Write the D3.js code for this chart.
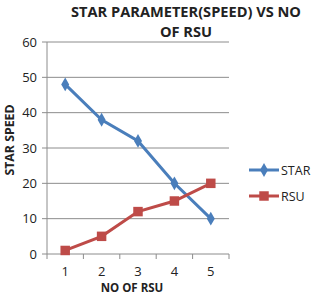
<!DOCTYPE html>
<html>
<head>
<meta charset="utf-8">
<script src="https://cdn.jsdelivr.net/npm/d3@7"></script>
<style>
body { margin: 0; background: #fff; }
text { font-family: "Open Sans", "DejaVu Sans", sans-serif; }
</style>
</head>
<body>
<div id="viz"></div>
<script>
const categories = [1, 2, 3, 4, 5];
const star = [48, 38, 32, 20, 10];
const rsu = [1, 5, 12, 15, 20];
const yTicks = [0, 10, 20, 30, 40, 50, 60];

const W = 312, H = 297;
const svg = d3.select('#viz').append('svg')
    .attr('width', W)
    .attr('height', H);

const x = d3.scaleBand()
    .domain(categories)
    .range([47, 229]);

const y = d3.scaleLinear()
    .domain([0, 60])
    .range([254, 42]);

const cx = d => x(d) + x.bandwidth() / 2;

// gridlines
svg.selectAll('line.grid')
    .data(yTicks)
    .enter()
    .append('line')
    .attr('class', 'grid')
    .attr('x1', 42).attr('x2', 229)
    .attr('y1', d => y(d)).attr('y2', d => y(d))
    .attr('stroke', '#8c8c8c')
    .attr('stroke-width', 1);

// y axis line
svg.append('line')
    .attr('x1', 47).attr('x2', 47)
    .attr('y1', y(60)).attr('y2', y(0))
    .attr('stroke', '#8c8c8c');

// x ticks
svg.selectAll('line.xt')
    .data(categories.concat([6]))
    .enter()
    .append('line')
    .attr('x1', (d, i) => 47 + i * x.step())
    .attr('x2', (d, i) => 47 + i * x.step())
    .attr('y1', y(0)).attr('y2', y(0) + 5)
    .attr('stroke', '#8c8c8c');

svg.selectAll('text.yl')
    .data(yTicks)
    .enter()
    .append('text')
    .attr('x', 37)
    .attr('y', d => y(d) + 4.5)
    .attr('text-anchor', 'end')
    .attr('font-size', 13)
    .attr('fill', '#222')
    .text(d => d);

svg.selectAll('text.xl')
    .data(categories)
    .enter()
    .append('text')
    .attr('x', d => cx(d))
    .attr('y', 276)
    .attr('text-anchor', 'middle')
    .attr('font-size', 13)
    .attr('fill', '#222')
    .text(d => d);

const line = d3.line()
    .x((d, i) => cx(categories[i]))
    .y(d => y(d));

const blue = '#4a7ebb', red = '#be4b48';

svg.append('path')
    .datum(star)
    .attr('d', line)
    .attr('fill', 'none')
    .attr('stroke', blue)
    .attr('stroke-width', 3);

svg.append('path')
    .datum(rsu)
    .attr('d', line)
    .attr('fill', 'none')
    .attr('stroke', red)
    .attr('stroke-width', 3);

const diamond = d3.symbol().type(d3.symbolDiamond).size(55);
const square = d3.symbol().type(d3.symbolSquare).size(90);

svg.selectAll('path.sm')
    .data(star)
    .enter()
    .append('path')
    .attr('d', diamond)
    .attr('transform', (d, i) => `translate(${cx(categories[i])},${y(d)})`)
    .attr('fill', blue);

svg.selectAll('path.rm')
    .data(rsu)
    .enter()
    .append('path')
    .attr('d', square)
    .attr('transform', (d, i) => `translate(${cx(categories[i])},${y(d)})`)
    .attr('fill', red);

// title
svg.append('text')
    .attr('x', 186).attr('y', 17)
    .attr('text-anchor', 'middle')
    .attr('font-size', 14.6)
    .attr('font-weight', 'bold')
    .attr('fill', '#222')
    .text('STAR PARAMETER(SPEED) VS NO');
svg.append('text')
    .attr('x', 186).attr('y', 37)
    .attr('text-anchor', 'middle')
    .attr('font-size', 14.6)
    .attr('font-weight', 'bold')
    .attr('fill', '#222')
    .text('OF RSU');

// axis titles
svg.append('text')
    .attr('transform', 'translate(14,140) rotate(-90)')
    .attr('text-anchor', 'middle')
    .attr('font-size', 12.3)
    .attr('font-weight', 'bold')
    .attr('fill', '#222')
    .text('STAR SPEED');

svg.append('text')
    .attr('x', 132).attr('y', 292)
    .attr('text-anchor', 'middle')
    .attr('font-size', 11.5)
    .attr('font-weight', 'bold')
    .attr('fill', '#222')
    .text('NO OF RSU');

// legend
const legend = [
    { name: 'STAR', color: blue, sym: diamond, yy: 170 },
    { name: 'RSU', color: red, sym: square, yy: 196 }
];
const lg = svg.selectAll('g.lg')
    .data(legend)
    .enter()
    .append('g')
    .attr('transform', d => `translate(0,${d.yy})`);
lg.append('line')
    .attr('x1', 249).attr('x2', 279)
    .attr('stroke', d => d.color)
    .attr('stroke-width', 3);
lg.append('path')
    .attr('d', d => d.sym())
    .attr('transform', 'translate(264,0)')
    .attr('fill', d => d.color);
lg.append('text')
    .attr('x', 281).attr('y', 4.5)
    .attr('font-size', 12.5)
    .attr('fill', '#222')
    .text(d => d.name);
</script>
</body>
</html>
